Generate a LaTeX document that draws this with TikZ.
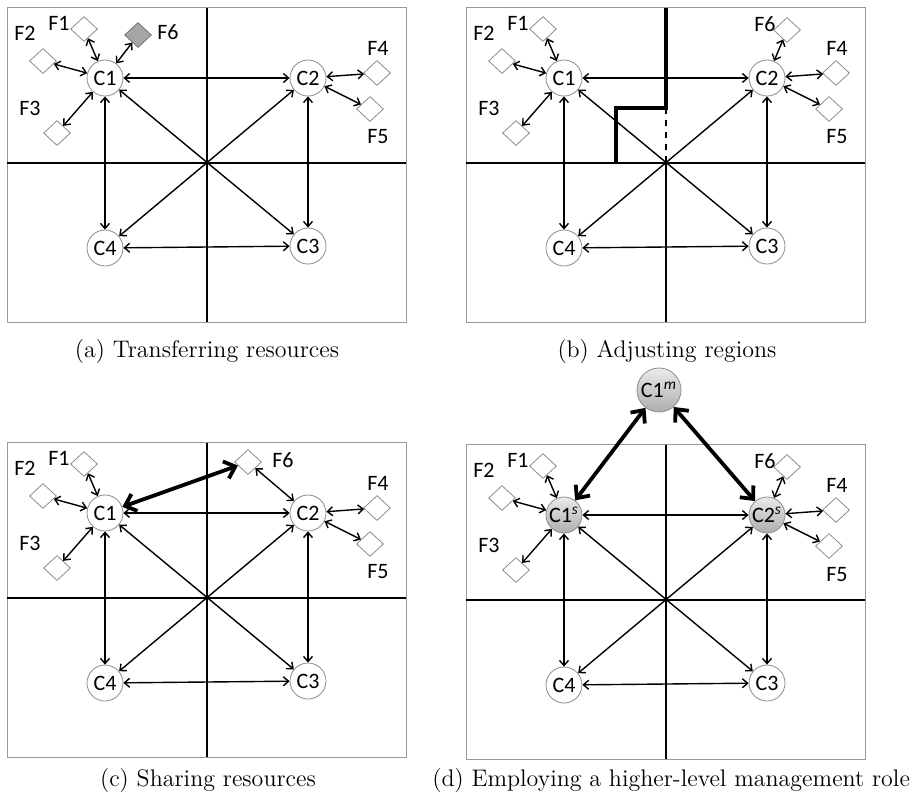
\documentclass[tikz,border=0pt]{standalone}
\usepackage{fontspec}
\newfontfamily\nodefont{Carlito}
\usetikzlibrary{arrows.meta,shapes.geometric}

\tikzset{
  region/.style={draw=black!40, line width=0.5pt},
  divider/.style={draw=black, line width=0.9pt},
  cloud/.style={circle, draw=black!45, fill=white, minimum size=18pt, inner sep=0pt,
    font=\nodefont\fontsize{11}{11}\selectfont},
  shadedcloud/.style={cloud, top color=black!8, bottom color=black!32},
  fog/.style={diamond, draw=black!45, fill=white, minimum width=13.5pt, minimum height=12.5pt, inner sep=0pt},
  ftext/.style={font=\nodefont\fontsize{11}{11}\selectfont, inner sep=0pt},
  link/.style={{Straight Barb[length=2.6pt,width=4.5pt]}-{Straight Barb[length=2.6pt,width=4.5pt]}, line width=0.7pt},
  boldlink/.style={{Straight Barb[length=5pt,width=9pt]}-{Straight Barb[length=5pt,width=9pt]}, line width=1.9pt},
  border/.style={line width=2pt},
  caption/.style={font=\fontsize{12}{14}\selectfont, anchor=base}
}

% common part of every panel: #1 prefix, #2 style of C1/C2, #3 C1 text, #4 C2 text
\newcommand\panel[4]{%
  \draw[region] (7,7) rectangle (406,322);
  \draw[divider] (7,163) -- (406,163);
  \draw[divider] (207,163) -- (207,322);
  \node[#2] (#1c1) at (105,78) {#3};
  \node[#2] (#1c2) at (308,78) {#4};
  \node[cloud] (#1c3) at (308,246) {C3};
  \node[cloud] (#1c4) at (105,248) {C4};
  \node[fog] (#1f1) at (84,29) {};
  \node[fog] (#1f2) at (43,61) {};
  \node[fog] (#1f3) at (57,133) {};
  \node[fog] (#1f4) at (377,73) {};
  \node[fog] (#1f5) at (370,109) {};
  \node[ftext] (#1l1) at (59,23) {F1};
  \node[ftext] (#1l2) at (25,33) {F2};
  \node[ftext] (#1l3) at (30,108) {F3};
  \node[ftext] (#1l4) at (378,48) {F4};
  \node[ftext] (#1l5) at (378,137) {F5};
  \draw[link] (#1c1) -- (#1c2);
  \draw[link] (#1c1) -- (#1c4);
  \draw[link] (#1c4) -- (#1c3);
  \draw[link] (#1c2) -- (#1c3);
  \draw[link] (#1c1) -- (#1c3);
  \draw[link] (#1c2) -- (#1c4);
  \draw[link] (#1c1) -- (#1f1);
  \draw[link] (#1c1) -- (#1f2);
  \draw[link] (#1c1) -- (#1f3);
  \draw[link] (#1c2) -- (#1f4);
  \draw[link] (#1c2) -- (#1f5);
}

\begin{document}
\begin{tikzpicture}[x=0.5pt,y=-0.5pt]
  \useasboundingbox (0,0) rectangle (920,800);

  % (a) transferring resources
  \draw[divider] (207,7) -- (207,163);
  \panel{a}{cloud}{C1}{C2}
  \node[fog, fill=black!35, draw=black!55] (af6) at (138,35) {};
  \node[ftext] (al6) at (168,32) {F6};
  \draw[link] (ac1) -- (af6);
  \node[caption] (capa) at (207,357) {(a) Transferring resources};

  % (b) adjusting regions
  \begin{scope}[shift={(459,0)}]
    \draw[border] (207,7) -- (207,108) -- (157,108) -- (157,163);
    \draw[dashed, line width=0.7pt] (207,108) -- (207,163);
    \panel{b}{cloud}{C1}{C2}
    \node[fog] (bf6) at (328,30) {};
    \node[ftext] (bl6) at (306,24) {F6};
    \draw[link] (bc2) -- (bf6);
    \node[caption] (capb) at (208,357) {(b) Adjusting regions};
  \end{scope}

  % (c) sharing resources
  \begin{scope}[shift={(0,435)}]
    \draw[divider] (207,7) -- (207,163);
    \panel{c}{cloud}{C1}{C2}
    \node[fog] (cf6) at (248,27) {};
    \node[ftext] (cl6) at (283,25) {F6};
    \draw[boldlink] (cc1) -- (cf6);
    \draw[link] (cc2) -- (cf6);
    \node[caption] (capc) at (208,351) {(c) Sharing resources};
  \end{scope}

  % (d) higher-level management role
  \begin{scope}[shift={(459,437)}]
    \draw[divider] (207,7) -- (207,163);
    \panel{d}{shadedcloud}{C1\textsuperscript{\itshape s}}{C2\textsuperscript{\itshape s}}
    \node[fog] (df6) at (328,30) {};
    \node[ftext] (dl6) at (306,24) {F6};
    \draw[link] (dc2) -- (df6);
    \node[shadedcloud, minimum size=22pt] (dm) at (200,-47) {C1\textsuperscript{\itshape m}};
    \draw[boldlink] (dm) -- (dc1);
    \draw[boldlink] (dm) -- (dc2);
    \node[caption, anchor=base east] (capd) at (458,349) {(d) Employing a higher-level management role};
  \end{scope}
\end{tikzpicture}
\end{document}
